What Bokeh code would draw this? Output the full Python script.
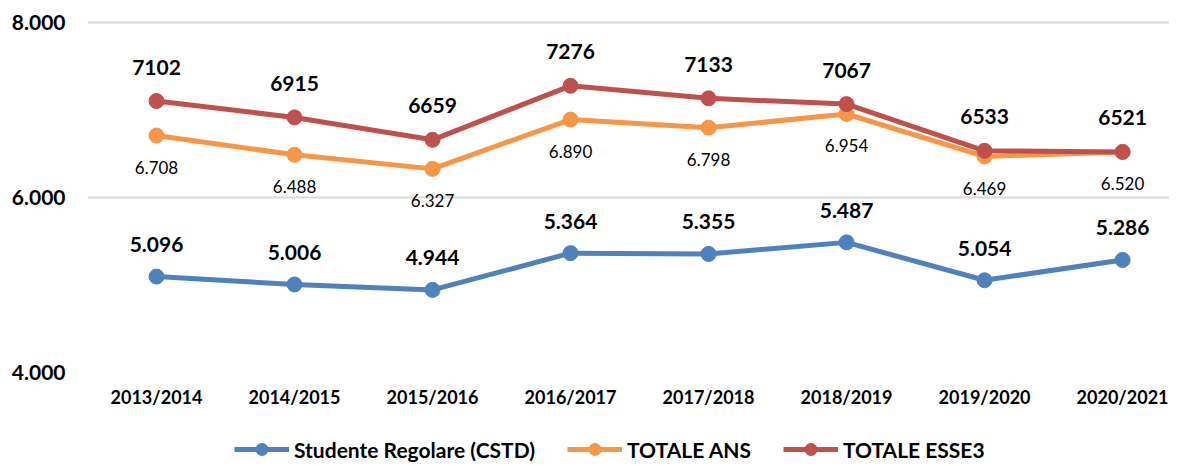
from bokeh.plotting import figure
from bokeh.models import (ColumnDataSource, Range1d, FixedTicker, Legend, LegendItem)
from bokeh.layouts import column
from bokeh.core.properties import value
from bokeh.embed import file_html
from bokeh.resources import INLINE

years = ["2013/2014", "2014/2015", "2015/2016", "2016/2017",
         "2017/2018", "2018/2019", "2019/2020", "2020/2021"]
cstd = [5096, 5006, 4944, 5364, 5355, 5487, 5054, 5286]
ans = [6708, 6488, 6327, 6890, 6798, 6954, 6469, 6520]
esse3 = [7102, 6915, 6659, 7276, 7133, 7067, 6533, 6521]
y_ticks = [4000, 6000, 8000]
series_names = ["Studente Regolare (CSTD)", "TOTALE ANS", "TOTALE ESSE3"]

FONT = "Lato"
BLUE = "#4F81BD"
ORANGE = "#F79646"
RED = "#C0504D"

def it(n):
    return format(n, ",").replace(",", ".")

idx = list(range(len(years)))

p = figure(width=1169, height=412, output_backend="svg", toolbar_location=None,
           x_range=Range1d(-0.5, 7.34), y_range=Range1d(4000, 8251),
           min_border_left=87, min_border_right=0, min_border_top=0,
           min_border_bottom=40)
p.outline_line_color = None
p.background_fill_color = "white"

# grid
p.xgrid.grid_line_color = None
p.ygrid.grid_line_color = "#d9d9d9"
p.ygrid.grid_line_width = 2
p.ygrid.ticker = FixedTicker(ticks=y_ticks)

# y axis
p.yaxis.ticker = FixedTicker(ticks=y_ticks)
p.yaxis.major_label_overrides = {t: it(t) for t in y_ticks}
p.yaxis.axis_line_color = None
p.yaxis.major_tick_line_color = None
p.yaxis.minor_tick_line_color = None
p.yaxis.major_label_standoff = 16
p.yaxis.major_label_text_font = FONT
p.yaxis.major_label_text_font_style = "bold"
p.yaxis.major_label_text_font_size = "21px"
p.yaxis.major_label_text_color = "#000000"

# x axis
p.xaxis.ticker = FixedTicker(ticks=idx)
p.xaxis.major_label_overrides = {i: y for i, y in zip(idx, years)}
p.xaxis.axis_line_color = None
p.xaxis.major_tick_line_color = None
p.xaxis.minor_tick_line_color = None
p.xaxis.major_label_standoff = 7
p.xaxis.major_label_text_font = FONT
p.xaxis.major_label_text_font_style = "bold"
p.xaxis.major_label_text_font_size = "18px"
p.xaxis.major_label_text_color = "#000000"

colors = [BLUE, ORANGE, RED]
for vals, col in zip([cstd, ans, esse3], colors):
    src = ColumnDataSource(dict(x=idx, y=vals))
    p.line("x", "y", source=src, line_color=col, line_width=5)
    p.scatter("x", "y", source=src, size=15, fill_color=col, line_color=col)

# data labels
src_e = ColumnDataSource(dict(x=idx, y=esse3, t=[str(v) for v in esse3]))
p.text("x", "y", text="t", source=src_e, y_offset=-34, text_align="center",
       text_baseline="middle", text_font=value(FONT), text_font_style="bold",
       text_font_size="21px", text_color="#000000")
src_a = ColumnDataSource(dict(x=idx, y=ans, t=[it(v) for v in ans]))
p.text("x", "y", text="t", source=src_a, y_offset=32, text_align="center",
       text_baseline="middle", text_font=value(FONT), text_font_style="normal",
       text_font_size="17px", text_color="#000000")
src_c = ColumnDataSource(dict(x=idx, y=cstd, t=[it(v) for v in cstd]))
p.text("x", "y", text="t", source=src_c, y_offset=-32, text_align="center",
       text_baseline="middle", text_font=value(FONT), text_font_style="bold",
       text_font_size="21px", text_color="#000000")

# legend strip below the chart (keys drawn with the same styles)
lg = figure(width=1169, height=52, output_backend="svg", toolbar_location=None,
            x_range=Range1d(0, 1), y_range=Range1d(0, 1),
            x_axis_type=None, y_axis_type=None,
            min_border_left=0, min_border_right=0, min_border_top=0,
            min_border_bottom=0)
lg.outline_line_color = None
lg.xgrid.grid_line_color = None
lg.ygrid.grid_line_color = None
items = []
for name, col in zip(series_names, colors):
    key_src = ColumnDataSource(dict(x=[-5, -4], y=[-5, -5]))
    l = lg.line("x", "y", source=key_src, line_color=col, line_width=5)
    s = lg.scatter("x", "y", source=key_src, size=15, fill_color=col, line_color=col)
    items.append(LegendItem(label=name, renderers=[l, s]))
legend = Legend(items=items, orientation="horizontal", location=(147, 0),
                border_line_color=None, background_fill_alpha=0,
                padding=0, margin=0, spacing=32, label_standoff=5,
                glyph_width=55, glyph_height=30, label_height=20,
                label_text_font=FONT, label_text_font_style="bold",
                label_text_font_size="21px", label_text_color="#000000")
lg.add_layout(legend, "center")

layout = column(p, lg, spacing=0)
open("out.html", "w").write(file_html(layout, INLINE))
